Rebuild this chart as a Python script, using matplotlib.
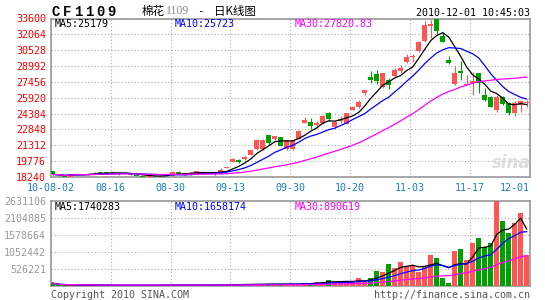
import numpy as np
import pandas as pd
import matplotlib
matplotlib.use('Agg')
import matplotlib.pyplot as plt

# %%
# daily bars of CF1109 (cotton), 10-08-02 .. 12-01
opens = [18820, 18450, 18380, 18280, 18470, 18420, 18420, 18670, 18720, 18720,
         18720, 18500, 18650, 18600, 18420, 18360, 18280, 18300, 18300, 18340,
         18390, 18760, 18660, 18500, 18530, 18530, 18660, 18730, 18530, 19160,
         19720, 19890, 19960, 20400, 20930, 20930, 22310, 21920, 22090, 20980,
         20930, 21920, 23500, 23600, 23280, 23440, 24410, 23060, 23700, 23380,
         24730, 25050, 26350, 27960, 28200, 26990, 27640, 28030, 28510, 29410,
         29840, 30480, 31420, 32900, 33600, 31900, 29580, 27250, 28510, 27200,
         27380, 28290, 26190, 26020, 24730, 26020, 25440, 24410, 25220, 25380]
highs = [18850, 18470, 18400, 18540, 18540, 18540, 18620, 18680, 18730, 18730,
         18730, 18640, 18660, 18620, 18430, 18370, 18330, 18360, 18380, 18540,
         18780, 18790, 18680, 18680, 18850, 18780, 18680, 18760, 19110, 19210,
         20110, 20030, 20300, 20900, 21920, 21900, 22320, 22250, 22100, 21850,
         21850, 22750, 24080, 23930, 23670, 24200, 24570, 23650, 24150, 24450,
         25100, 25700, 26700, 28510, 28600, 28350, 27860, 28770, 29090, 30160,
         30130, 31400, 33390, 33450, 33600, 32320, 29970, 29000, 29480, 28120,
         28450, 28300, 26900, 26050, 26190, 26100, 25480, 25610, 25650, 25670]
lows = [18480, 18380, 18260, 18260, 18460, 18400, 18400, 18550, 18630, 18640,
        18640, 18480, 18540, 18420, 18340, 18250, 18260, 18280, 18280, 18320,
        18380, 18540, 18480, 18480, 18500, 18520, 18520, 18480, 18500, 19150,
        19700, 19630, 19900, 20380, 20900, 20860, 21340, 21830, 21200, 20860,
        20830, 21900, 23450, 22890, 22960, 23400, 23700, 23000, 23440, 23350,
        24700, 24900, 26190, 27320, 27300, 26900, 26770, 27800, 28290, 29260,
        29410, 30400, 31350, 31740, 32070, 31300, 29200, 27160, 27640, 27150,
        26190, 26410, 25650, 25000, 24570, 25200, 24250, 24180, 24510, 25050]
closes = [18500, 18400, 18280, 18520, 18530, 18530, 18560, 18580, 18650, 18660,
          18660, 18620, 18560, 18440, 18360, 18270, 18320, 18340, 18360, 18530,
          18760, 18560, 18500, 18660, 18820, 18760, 18530, 18500, 18920, 19190,
          19990, 19720, 20150, 20860, 21830, 21830, 21560, 22210, 21250, 21830,
          21830, 22730, 23760, 23210, 23440, 24150, 23860, 23600, 23890, 24410,
          25050, 25540, 26670, 27640, 27500, 28290, 27160, 28610, 28830, 29900,
          29990, 31350, 32970, 33040, 32420, 31350, 29260, 28290, 28350, 27230,
          27540, 27320, 25700, 25050, 26020, 25290, 24470, 25380, 25610, 25540]
volumes = [95000, 30000, 35000, 40000, 30000, 35000, 40000, 30000, 35000, 30000,
           30000, 35000, 30000, 40000, 30000, 35000, 30000, 35000, 40000, 40000,
           45000, 40000, 35000, 40000, 45000, 40000, 35000, 40000, 50000, 55000,
           60000, 55000, 60000, 65000, 70000, 65000, 70000, 65000, 71000, 71000,
           71000, 71000, 102000, 102000, 133000, 133000, 195000, 133000, 133000, 164000,
           133000, 266000, 150000, 266000, 474000, 452000, 690000, 557000, 752000, 638000,
           628000, 433000, 638000, 969000, 885000, 266000, 112000, 1093000, 1164000, 814000,
           1350000, 1505000, 1216000, 1340000, 2631106, 2021000, 1650000, 1959000, 2269000, 969000]

date_labels = ['10-08-02', '08-16', '08-30', '09-13', '09-30', '10-20', '11-03', '11-17', '12-01']
price_ticks = [18240, 19776, 21312, 22848, 24384, 25920, 27456, 28992, 30528, 32064, 33600]
vol_ticks = [526221, 1052442, 1578664, 2104885, 2631106]
ma_windows = [5, 10, 30]
ma_colors = ['black', 'blue', 'magenta']
price_ma_text = ['MA5:25179', 'MA10:25723', 'MA30:27820.83']
vol_ma_text = ['MA5:1740283', 'MA10:1658174', 'MA30:890619']

# %%
plt.rcParams['font.family'] = 'DejaVu Sans Mono'
W, H = 545, 300

o = np.array(opens)
c = np.array(closes)
x = np.arange(len(c))
up = c >= o
colors = np.where(up, '#ff5555', '#00a000')

fig = plt.figure(figsize=(W / 100, H / 100), dpi=100)
ax = fig.add_axes([50.7 / W, 1 - 177 / H, (530 - 50.7) / W, (177 - 18.5) / H])
axv = fig.add_axes([50.7 / W, 1 - 286.3 / H, (530 - 50.7) / W, 85 / H], sharex=ax)

grid_kw = dict(color='#aaaaaa', linestyle=(0, (1, 2)), linewidth=0.8)
for a in (ax, axv):
    for s in a.spines.values():
        s.set_color('#999999')
        s.set_linewidth(1.2)
    a.grid(True, **grid_kw)
    a.set_axisbelow(True)
    a.tick_params(length=0, labelsize=7.2)

# candles
body_lo = np.minimum(o, c)
body_h = np.maximum(np.abs(c - o), 60)
ax.vlines(x, lows, highs, colors=colors, linewidth=0.8, zorder=3)
ax.bar(x, body_h, 0.8, bottom=body_lo, color=colors, linewidth=0, zorder=3)

# volume bars
axv.bar(x, volumes, 0.8, color=colors, linewidth=0, zorder=3)

# moving averages
close_s = pd.Series(closes)
vol_s = pd.Series(volumes)
for n, col in zip(ma_windows, ma_colors):
    ax.plot(x, close_s.rolling(n, min_periods=1).mean(), color=col, lw=0.9, zorder=4)
    axv.plot(x, vol_s.rolling(n, min_periods=1).mean(), color=col, lw=0.9, zorder=4)

x0, x1 = -0.33, 79.55
ax.set_xlim(x0, x1)
ax.set_ylim(18240, 33600)
axv.set_ylim(0, 2631106)

ax.set_xticks(np.linspace(x0, x1, 9), date_labels)
ax.tick_params(axis='x', labelcolor='#1a7fc6', pad=4)
ax.get_xticklabels()[-1].set_horizontalalignment('right')
axv.tick_params(axis='x', labelbottom=False)

ax.set_yticks(price_ticks, [str(t) for t in price_ticks])
ax.tick_params(axis='y', labelcolor='red', pad=3.4)
axv.set_yticks(vol_ticks, [str(v) for v in vol_ticks])
axv.tick_params(axis='y', labelcolor='#999999', pad=3.4)

# MA legends inside the panels
leg_x = [4.3 / 479.3, 124.3 / 479.3, 244.3 / 479.3]
for txt, col, lx in zip(price_ma_text, ma_colors, leg_x):
    ax.text(lx, 0.965, txt, color=col, fontsize=7.2, va='center', transform=ax.transAxes, zorder=5)
for txt, col, lx in zip(vol_ma_text, ma_colors, leg_x):
    axv.text(lx, 0.936, txt, color=col, fontsize=7.2, va='center', transform=axv.transAxes, zorder=5)

# header
for k, ch in enumerate('CF1109'):
    fig.text((52 + k * 11.1) / W, 1 - 12 / H, ch, fontsize=10, weight='bold',
             family='Liberation Mono', va='center')
fig.text(141.5 / W, 1 - 11.5 / H, '棉花', family=['Noto Sans CJK SC'], fontsize=8.3, va='center')
fig.text(165.5 / W, 1 - 11.5 / H, '1109', family='Liberation Serif', color='#888888', fontsize=8.5, va='center')
fig.text(197 / W, 1 - 11.5 / H, '-', fontsize=8, va='center')
fig.text(214 / W, 1 - 11.5 / H, '日K线图', family=['Noto Sans CJK SC'], fontsize=8.3, va='center')
fig.text(530 / W, 1 - 12.7 / H, '2010-12-01 10:45:03', fontsize=7.2, ha='right', va='center')

# watermark + footer
fig.text(511 / W, 1 - 163 / H, 'sina', family='DejaVu Sans', fontsize=12, style='italic',
         weight='bold', color='#dddddd', ha='center', va='center')
fig.text(50.7 / W, 1 - 295.5 / H, 'Copyright 2010 SINA.COM', fontsize=7.2, color='#555555', va='center')
fig.text(530 / W, 1 - 295.5 / H, 'http://finance.sina.com.cn', fontsize=7.2, color='#555555',
         ha='right', va='center')

fig.savefig('out.png', dpi=100)
